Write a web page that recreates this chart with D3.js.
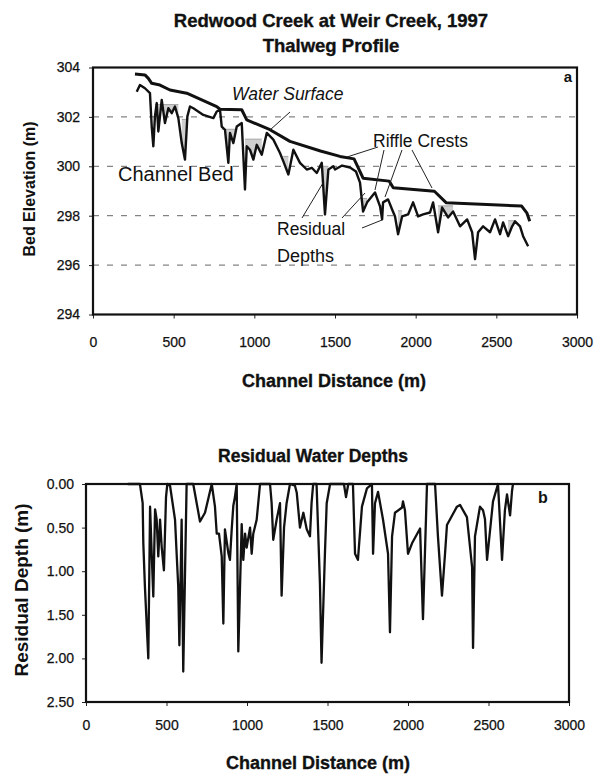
<!DOCTYPE html>
<html><head><meta charset="utf-8">
<script src="https://cdn.jsdelivr.net/npm/d3@7/dist/d3.min.js"></script>
<style>
body{margin:0;background:#fff}
svg text{font-family:"Liberation Sans",Arial,sans-serif;fill:#111}
</style></head>
<body><svg id="chart" width="595" height="774"></svg>
<script>
// ---------- data ----------
const xTicks = [0, 500, 1000, 1500, 2000, 2500, 3000];
const elevTicks = [294, 296, 298, 300, 302, 304];
const depthTicks = [0, 0.5, 1, 1.5, 2, 2.5];
const gridElev = [302, 300, 298, 296];

const waterDist = [260,322,343,364,415,477,581,767,787,922,953,1097,1221,1410,1531,1618,1674,1836,1861,2116,2190,2657,2690,2707];
const waterElev = [303.74,303.70,303.56,303.36,303.29,303.09,302.96,302.42,302.31,302.29,301.88,301.48,301.01,300.62,300.40,300.30,299.52,299.40,299.13,298.99,298.52,298.39,298.10,297.78];

const bedDist = [271,291,322,353,364,374,384,395,405,426,446,467,488,508,529,550,570,585,601,622,684,746,767,787,798,818,839,849,870,891,922,942,953,973,994,1015,1046,1077,1118,1159,1180,1211,1242,1283,1325,1356,1387,1418,1438,1459,1490,1500,1544,1593,1630,1655,1674,1699,1748,1779,1792,1798,1829,1854,1872,1891,1916,1953,1984,2015,2046,2089,2108,2139,2164,2201,2232,2275,2319,2350,2368,2387,2418,2461,2492,2523,2542,2573,2598,2616,2647,2666,2697];
const bedElev = [303.02,303.29,303.16,302.96,301.61,300.81,302.02,302.56,301.41,302.69,301.75,302.35,302.15,302.42,301.95,300.94,300.27,302.02,302.42,302.35,302.08,301.95,302.22,302.29,301.61,301.48,300.14,301.35,300.94,301.61,301.75,299.06,300.81,300.67,300.27,300.87,300.47,301.35,301.08,300.54,300.20,299.67,300.67,300.14,299.87,299.94,299.73,300.14,298.05,299.87,300.00,299.87,300.03,299.95,299.79,299.34,298.17,298.54,298.94,298.38,297.85,298.54,298.66,298.25,297.97,297.25,297.97,298.05,298.54,297.97,298.05,298.13,298.54,297.33,298.33,297.93,298.17,297.57,297.85,297.33,296.24,297.33,297.57,297.33,297.85,297.25,297.73,297.17,297.57,297.77,297.57,297.17,296.76];

// residual pools in the profile: start, end, riffle-crest level
const poolStart = [384, 545, 795, 940, 1170, 1415, 1655, 1775, 1880, 2135, 2555];
const poolEnd   = [530, 600, 900, 1075, 1240, 1462, 1705, 1800, 1925, 2240, 2625];
const poolLevel = [302.5, 301.9, 301.5, 301.1, 300.4, 300.0, 298.7, 298.4, 298.2, 298.4, 297.8];

const resDist = [260,335,352,356,366,387,398,408,418,429,439,449,460,470,484,497,505,522,553,563,573,580,594,604,625,666,708,739,781,801,812,826,843,853,863,884,894,905,915,925,936,946,967,977,988,998,1019,1029,1039,1060,1081,1143,1153,1163,1184,1205,1215,1230,1246,1267,1298,1309,1329,1350,1371,1391,1401,1411,1432,1453,1463,1484,1495,1516,1602,1615,1629,1658,1671,1689,1714,1745,1776,1783,1795,1814,1845,1876,1888,1901,1919,1963,1969,1981,2000,2025,2075,2093,2118,2168,2186,2211,2230,2242,2304,2323,2366,2398,2404,2416,2447,2466,2478,2491,2528,2559,2584,2602,2615,2634,2646,2652];
const resDepth = [0,0,0.22,0.68,1.18,2.0,0.26,0.8,1.29,0.29,0.41,0.83,0.41,0.72,0.99,0.15,0,0.02,0.41,0.8,1.18,1.85,0.41,2.15,0,0,0.43,0.33,0,0.26,0.57,0.57,0.83,1.6,0.52,0.79,0.87,0.52,0.25,0.15,0,1.92,0.46,0.87,0.57,0.73,0.5,0.8,0.57,0.41,0,0,0.22,0.64,0.41,0.22,1.28,0.5,0.22,0,0.02,0.1,0.5,0.33,0.52,0.6,0.22,0,0,1.14,2.05,0.8,0.22,0,0,0.15,0,0,0.8,0.87,0.26,0.05,0,0.8,0.22,0.09,0.41,0.8,1.7,0.6,0.33,0.27,0.2,0.3,0.8,0.68,0.51,1.55,0,0,0.6,1.28,0.8,0.47,0.26,0.24,0.38,0.95,1.88,0.6,0.26,0.3,0.4,0.87,0.2,0,0.87,0.3,0.12,0.36,0.08,0];

// ---------- drawing ----------
const svg = d3.select("#chart");
svg.append("rect").attr("width",595).attr("height",774).attr("fill","#fff");

function styleAxis(g){
  g.select(".domain").remove();
  g.selectAll("text").attr("font-size",14).attr("fill","#111").attr("stroke","#111").attr("stroke-width",0.25);
  g.selectAll("line").attr("stroke","#222");
}
function boldText(x, y, size, str, anchor){
  return svg.append("text").attr("x",x).attr("y",y).attr("text-anchor",anchor||"middle")
    .attr("font-size",size).attr("font-weight","bold")
    .attr("stroke","#111").attr("stroke-width",0.35).text(str);
}

// ===== Panel a =====
const A = {l:93, r:577, t:67.5, b:314.5};
const xa = d3.scaleLinear().domain([0,3000]).range([A.l, A.r]);
const ya = d3.scaleLinear().domain([294,304]).range([A.b, A.t]);

boldText(331, 27, 18.5, "Redwood Creek at Weir Creek, 1997");
boldText(331, 52, 18.5, "Thalweg Profile");

// gridlines
svg.append("g").selectAll("line").data(gridElev).join("line")
  .attr("x1",A.l).attr("x2",A.r).attr("y1",d=>ya(d)).attr("y2",d=>ya(d))
  .attr("stroke","#555").attr("stroke-width",0.9).attr("stroke-dasharray","6,8");

// axes
const axA = svg.append("g").attr("transform",`translate(${A.l},0)`)
  .call(d3.axisLeft(ya).tickValues(elevTicks).tickSize(4).tickSizeOuter(0).tickPadding(9).tickFormat(d3.format("d")));
const axAx = svg.append("g").attr("transform",`translate(0,${A.b})`)
  .call(d3.axisBottom(xa).tickValues(xTicks).tickSize(4).tickSizeOuter(0).tickPadding(19).tickFormat(d3.format("d")));
styleAxis(axA); styleAxis(axAx);
svg.append("rect").attr("x",A.l).attr("y",A.t).attr("width",A.r-A.l).attr("height",A.b-A.t)
  .attr("fill","none").attr("stroke","#111").attr("stroke-width",2.2);

// residual pools (grey fill)
const bedPts = bedDist.map((d,i)=>({d, e:bedElev[i]}));
poolStart.forEach((s,i)=>{
  const pts = bedPts.filter(p=>p.d>=s && p.d<=poolEnd[i]);
  const lvl = poolLevel[i];
  svg.append("path").datum(pts)
    .attr("d", d3.area().x(p=>xa(p.d)).y0(p=>ya(Math.min(p.e,lvl))).y1(ya(lvl)))
    .attr("fill","#cfcfcf").attr("stroke","none");
  svg.append("line").attr("x1",xa(pts[0].d)).attr("x2",xa(pts[pts.length-1].d))
    .attr("y1",ya(lvl)).attr("y2",ya(lvl)).attr("stroke","#888").attr("stroke-width",0.7);
});

// lines
const lineA = d3.line().x(p=>xa(p.d)).y(p=>ya(p.e));
svg.append("path").datum(bedPts).attr("d",lineA).attr("fill","none")
  .attr("stroke","#111").attr("stroke-width",2.4).attr("stroke-linejoin","round");
svg.append("path").datum(waterDist.map((d,i)=>({d,e:waterElev[i]}))).attr("d",lineA).attr("fill","none")
  .attr("stroke","#111").attr("stroke-width",3).attr("stroke-linejoin","round");

// annotations
const ann = svg.append("g");
ann.append("text").attr("x",232).attr("y",100).attr("font-size",17.5).attr("font-style","italic").text("Water Surface");
ann.append("text").attr("x",118).attr("y",181).attr("font-size",20).text("Channel Bed");
ann.append("text").attr("x",373).attr("y",147).attr("font-size",17.5).text("Riffle Crests");
ann.append("text").attr("x",277).attr("y",235).attr("font-size",17.5).text("Residual");
ann.append("text").attr("x",277).attr("y",262).attr("font-size",18).text("Depths");
ann.append("text").attr("x",568).attr("y",82).attr("font-size",15).attr("font-weight","bold").attr("text-anchor","middle").text("a");
const pointers = [
  [290,112,270,130],
  [378,147,347,157],[384,150,375,190],[402,150,385,197],[412,150,432,188],
  [302,218,323,183],[342,218,365,193],[362,228,382,220]
];
ann.selectAll("line").data(pointers).join("line")
  .attr("x1",p=>p[0]).attr("y1",p=>p[1]).attr("x2",p=>p[2]).attr("y2",p=>p[3])
  .attr("stroke","#222").attr("stroke-width",1);

svg.append("text").attr("transform","translate(35,189) rotate(-90)").attr("text-anchor","middle")
  .attr("font-size",16).attr("font-weight","bold").text("Bed Elevation (m)");
boldText(334, 387, 18, "Channel Distance (m)");

// ===== Panel b =====
const B = {l:86, r:569, t:484, b:702};
const xb = d3.scaleLinear().domain([0,3000]).range([B.l, B.r]);
const yb = d3.scaleLinear().domain([0,2.5]).range([B.t, B.b]);

boldText(313, 462, 17.5, "Residual Water Depths");

const axB = svg.append("g").attr("transform",`translate(${B.l},0)`)
  .call(d3.axisLeft(yb).tickValues(depthTicks).tickSize(4).tickSizeOuter(0).tickPadding(8).tickFormat(d3.format(".2f")));
const axBx = svg.append("g").attr("transform",`translate(0,${B.b})`)
  .call(d3.axisBottom(xb).tickValues(xTicks).tickSize(4).tickSizeOuter(0).tickPadding(14).tickFormat(d3.format("d")));
styleAxis(axB); styleAxis(axBx);
svg.append("rect").attr("x",B.l).attr("y",B.t).attr("width",B.r-B.l).attr("height",B.b-B.t)
  .attr("fill","none").attr("stroke","#111").attr("stroke-width",2.2);

svg.append("path").datum(resDist.map((d,i)=>({d,v:resDepth[i]})))
  .attr("d", d3.line().x(p=>xb(p.d)).y(p=>yb(p.v)))
  .attr("fill","none").attr("stroke","#111").attr("stroke-width",2.3).attr("stroke-linejoin","round");

svg.append("text").attr("x",543).attr("y",503).attr("font-size",16).attr("font-weight","bold").attr("text-anchor","middle").text("b");

svg.append("text").attr("transform","translate(28,590) rotate(-90)").attr("text-anchor","middle")
  .attr("font-size",19).attr("font-weight","bold").text("Residual Depth (m)");
boldText(318, 769, 18, "Channel Distance (m)");
</script></body></html>
